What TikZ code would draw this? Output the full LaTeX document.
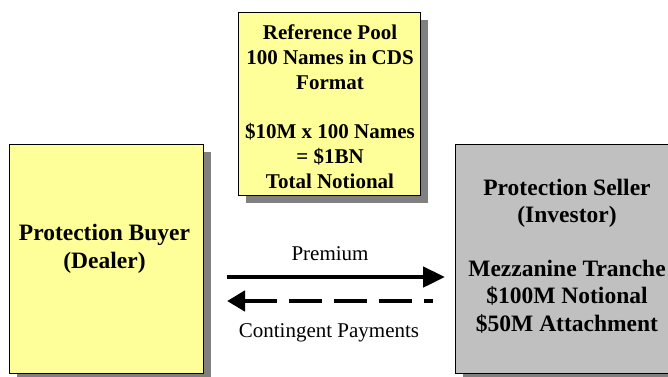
\documentclass[tikz,border=0pt]{standalone}
\usepackage{fontspec}
\setmainfont{Liberation Serif}
\usetikzlibrary{arrows.meta,shadows}
\definecolor{paleyellow}{HTML}{FFFF99}
\definecolor{boxgray}{HTML}{C0C0C0}
\definecolor{shadowgray}{HTML}{808080}
\begin{document}
\begin{tikzpicture}[x=1pt,y=-1pt,
  box/.style={draw=black, line width=0.8pt, inner sep=0pt,
    drop shadow={shadow xshift=8pt, shadow yshift=-8pt, fill=shadowgray, opacity=1}},
  sidetxt/.style={font=\fontsize{23.5}{27.2}\selectfont\bfseries, align=center, inner sep=0pt, anchor=base},
  toptxt/.style={font=\fontsize{21}{24.8}\selectfont\bfseries, align=center, inner sep=0pt, anchor=base},
  lbl/.style={font=\fontsize{21}{24}\selectfont, inner sep=0pt, anchor=base},
  solidarrow/.style={line width=4.7pt, -{Triangle[length=22pt,width=20pt]}},
  dasharrow/.style={line width=4.7pt, {Triangle[length=18pt,width=20pt]}-, dash pattern=on 33pt off 12pt}
]
\useasboundingbox (0,0) rectangle (668,376);
\clip (0,0) rectangle (668,376);
\fill[white] (0,0) rectangle (668,376);

% boxes
\node[box, fill=paleyellow, minimum width=194pt, minimum height=229pt] (buyer) at (106,258.5) {};
\node[box, fill=paleyellow, minimum width=182pt, minimum height=183pt] (pool) at (329,103.5) {};
\node[box, fill=boxgray, minimum width=235pt, minimum height=229pt] (seller) at (572.5,258.5) {};

% texts (anchor base = baseline of the last line)
\node[sidetxt] (buyertext) at (104.5,268) {Protection Buyer\\(Dealer)};
\node[toptxt] (pooltext) at (330,188.3) {Reference Pool\\100 Names in CDS\\Format\\[24.8pt]\$10M x 100 Names\\= \$1BN\\Total Notional};
\node[sidetxt] (sellertext) at (567,331) {Protection Seller\\(Investor)\\[27.2pt]Mezzanine Tranche\\\$100M Notional\\\$50M Attachment};

% connectors
\coordinate (premstart) at (227,277);
\coordinate (premend) at (445,277);
\coordinate (contstart) at (433,301);
\coordinate (contend) at (227,301);
\draw[solidarrow] (premstart) -- (premend);
\draw[dasharrow] (contend) -- (contstart);

\node[lbl] (premium) at (330,260) {Premium};
\node[lbl] (contingent) at (329,337) {Contingent Payments};
\end{tikzpicture}
\end{document}
